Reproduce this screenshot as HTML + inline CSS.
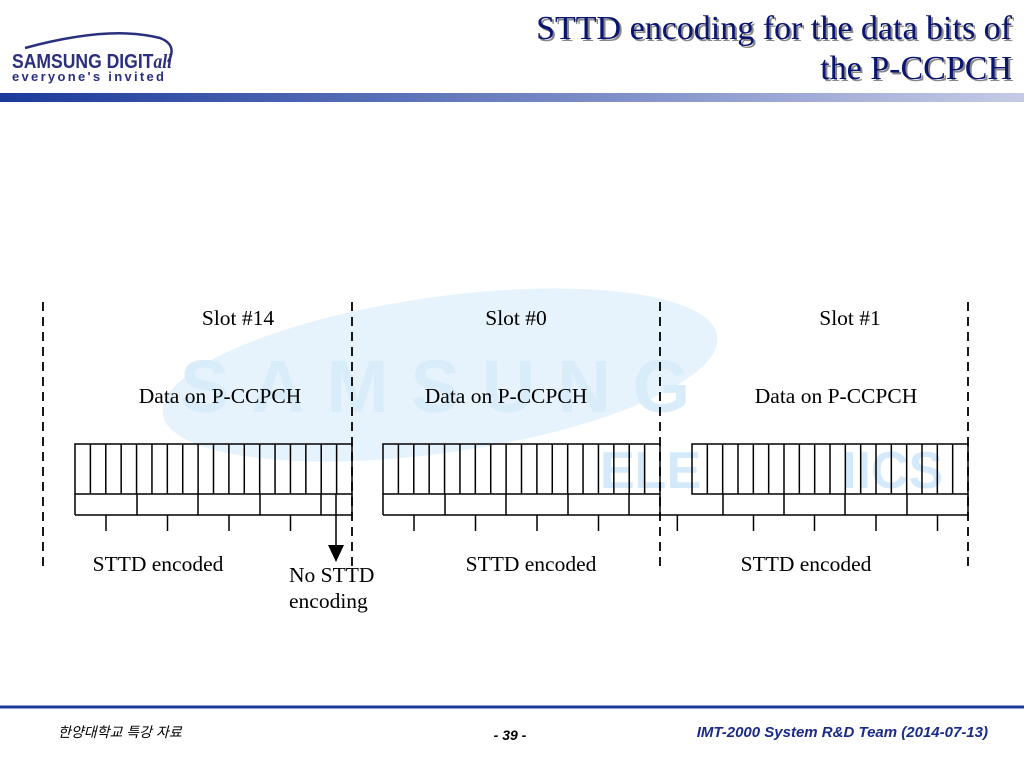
<!DOCTYPE html>
<html><head><meta charset="utf-8"><style>
body{margin:0;width:1024px;height:768px;overflow:hidden;background:#fff;font-family:"Liberation Serif",serif;}
svg{position:absolute;left:0;top:0}
</style></head><body>
<svg width="1024" height="768" font-family="Liberation Serif, serif">
<defs>
<linearGradient id="hg" x1="0" x2="1"><stop offset="0" stop-color="#1a3a9a"/><stop offset="0.6" stop-color="#7f8fc8"/><stop offset="1" stop-color="#c5cbe6"/></linearGradient>
</defs>
<g>
<ellipse cx="440" cy="375" rx="280" ry="78" transform="rotate(-8 440 375)" fill="#e6f3fc"/>
<text x="180" y="412" font-family="Liberation Sans, sans-serif" font-weight="bold" font-size="74" fill="#d9ecf9" letter-spacing="22">SAMSUNG</text>
<text x="600" y="488" font-family="Liberation Sans, sans-serif" font-weight="bold" font-size="52" fill="#d4eafa">ELE</text>
<text x="842" y="488" font-family="Liberation Sans, sans-serif" font-weight="bold" font-size="52" fill="#d4eafa">IICS</text>
</g>
<g>
<path d="M25 48 Q110 25 160 38 Q178 45 168 62" fill="none" stroke="#2a2f7e" stroke-width="2.5"/>
<text x="12" y="68" font-family="Liberation Sans, sans-serif" font-weight="bold" font-size="20" fill="#2a2f7e" textLength="160" lengthAdjust="spacingAndGlyphs">SAMSUNG DIGIT<tspan font-family="Liberation Serif, serif" font-style="italic">all</tspan></text>
<text x="12" y="81" font-family="Liberation Sans, sans-serif" font-weight="bold" font-size="13" fill="#2a2f7e" textLength="152" lengthAdjust="spacing">everyone's invited</text>
</g>
<rect x="0" y="93" width="1024" height="9" fill="url(#hg)"/>
<g font-size="34" text-anchor="end" font-family="Liberation Serif, serif">
<text x="1014" y="41" fill="#888">STTD encoding for the data bits of</text>
<text x="1012" y="39" fill="#0a1570">STTD encoding for the data bits of</text>
<text x="1014" y="81" fill="#888">the P-CCPCH</text>
<text x="1012" y="79" fill="#0a1570">the P-CCPCH</text>
</g>
<g id="diagram" font-size="21.5" fill="#000" font-family="Liberation Serif, serif"></g>
<line x1="0" y1="707" x2="1024" y2="707" stroke="#1a3a9a" stroke-width="3"/>
<text x="58" y="737" font-family="Liberation Sans, 'Noto Sans CJK KR', sans-serif" font-style="italic" font-size="14">한양대학교 특강 자료</text>
<text x="510" y="740" text-anchor="middle" font-family="Liberation Sans, sans-serif" font-style="italic" font-weight="bold" font-size="14">- 39 -</text>
<text x="988" y="737" text-anchor="end" font-family="Liberation Sans, sans-serif" font-style="italic" font-weight="bold" font-size="15" fill="#1a2a8a">IMT-2000 System R&amp;D Team (2014-07-13)</text>
</svg>
<script>
const slotNames=['Slot #14','Slot #0','Slot #1'];
const slotStarts=[75,383,692];
const slotEnds=[352,660,968];
const bitsPerSlot=[18,18,18];
const dividers=[43,352,660,968];
const encLabels=['STTD encoded','STTD encoded','STTD encoded'];
const NS='http://www.w3.org/2000/svg';
const g=document.getElementById('diagram');
function mk(t,a){const e=document.createElementNS(NS,t);for(const k in a)e.setAttribute(k,a[k]);g.appendChild(e);return e;}
function txt(x,y,s,anchor){const e=mk('text',{x:x,y:y,'text-anchor':anchor||'middle'});e.textContent=s;return e;}
dividers.forEach(x=>{const l=mk('line',{x1:x,y1:302,x2:x,y2:566,stroke:'#000','stroke-width':1.8,'stroke-dasharray':'9,6'});

});
const centers=[238,516,850];
const dataX=[220,506,836];
const encX=[158,531,806];
slotNames.forEach((n,i)=>{
 const a=txt(centers[i],325,n);
 const b=txt(dataX[i],403,'Data on P-CCPCH');
 const c=txt(encX[i],571,encLabels[i]);
 const x0=slotStarts[i],x1=slotEnds[i],nb=bitsPerSlot[i],w=(x1-x0)/nb,top=444,bot=494;
 const r=mk('rect',{x:x0,y:top,width:x1-x0,height:bot-top,fill:'none',stroke:'#000','stroke-width':1.5});
 
 for(let k=1;k<nb;k++){const l=mk('line',{x1:x0+k*w,y1:top,x2:x0+k*w,y2:bot,stroke:'#000','stroke-width':1.5});
  }
 const pts=[];
 if(i==2){pts.push(dividers[2]);}
 for(let k=(i==2?2:0);k<=nb;k+=4)pts.push(x0+k*w);
 if(i!=2)pts.push(x1);
 const uniq=[...new Set(pts.map(p=>Math.round(p)))];
 mk('line',{x1:uniq[0],y1:515,x2:uniq[uniq.length-1],y2:515,stroke:'#000','stroke-width':1.5});
 uniq.forEach((p,j)=>{if(i==2&&j==0)return;mk('line',{x1:p,y1:494,x2:p,y2:515,stroke:'#000','stroke-width':1.5});});
 for(let j=0;j<uniq.length-1;j++){if(i!=2&&j==uniq.length-2)continue;
  let mx=(uniq[j]+uniq[j+1])/2;
  if(i==2&&j==0)mx=uniq[j+1]-2*w-15;
  const t=mk('line',{x1:mx,y1:515,x2:mx,y2:531,stroke:'#000','stroke-width':1.5});
  }
});
const ax=336;
mk('line',{x1:ax,y1:494,x2:ax,y2:548,stroke:'#000','stroke-width':1.5});
const tri=mk('polygon',{points:(ax-8)+',545 '+(ax+8)+',545 '+ax+',562',fill:'#000'});

const n1=txt(289,582,'No STTD','start');
const n2=txt(289,608,'encoding','start');
</script>
</body></html>
